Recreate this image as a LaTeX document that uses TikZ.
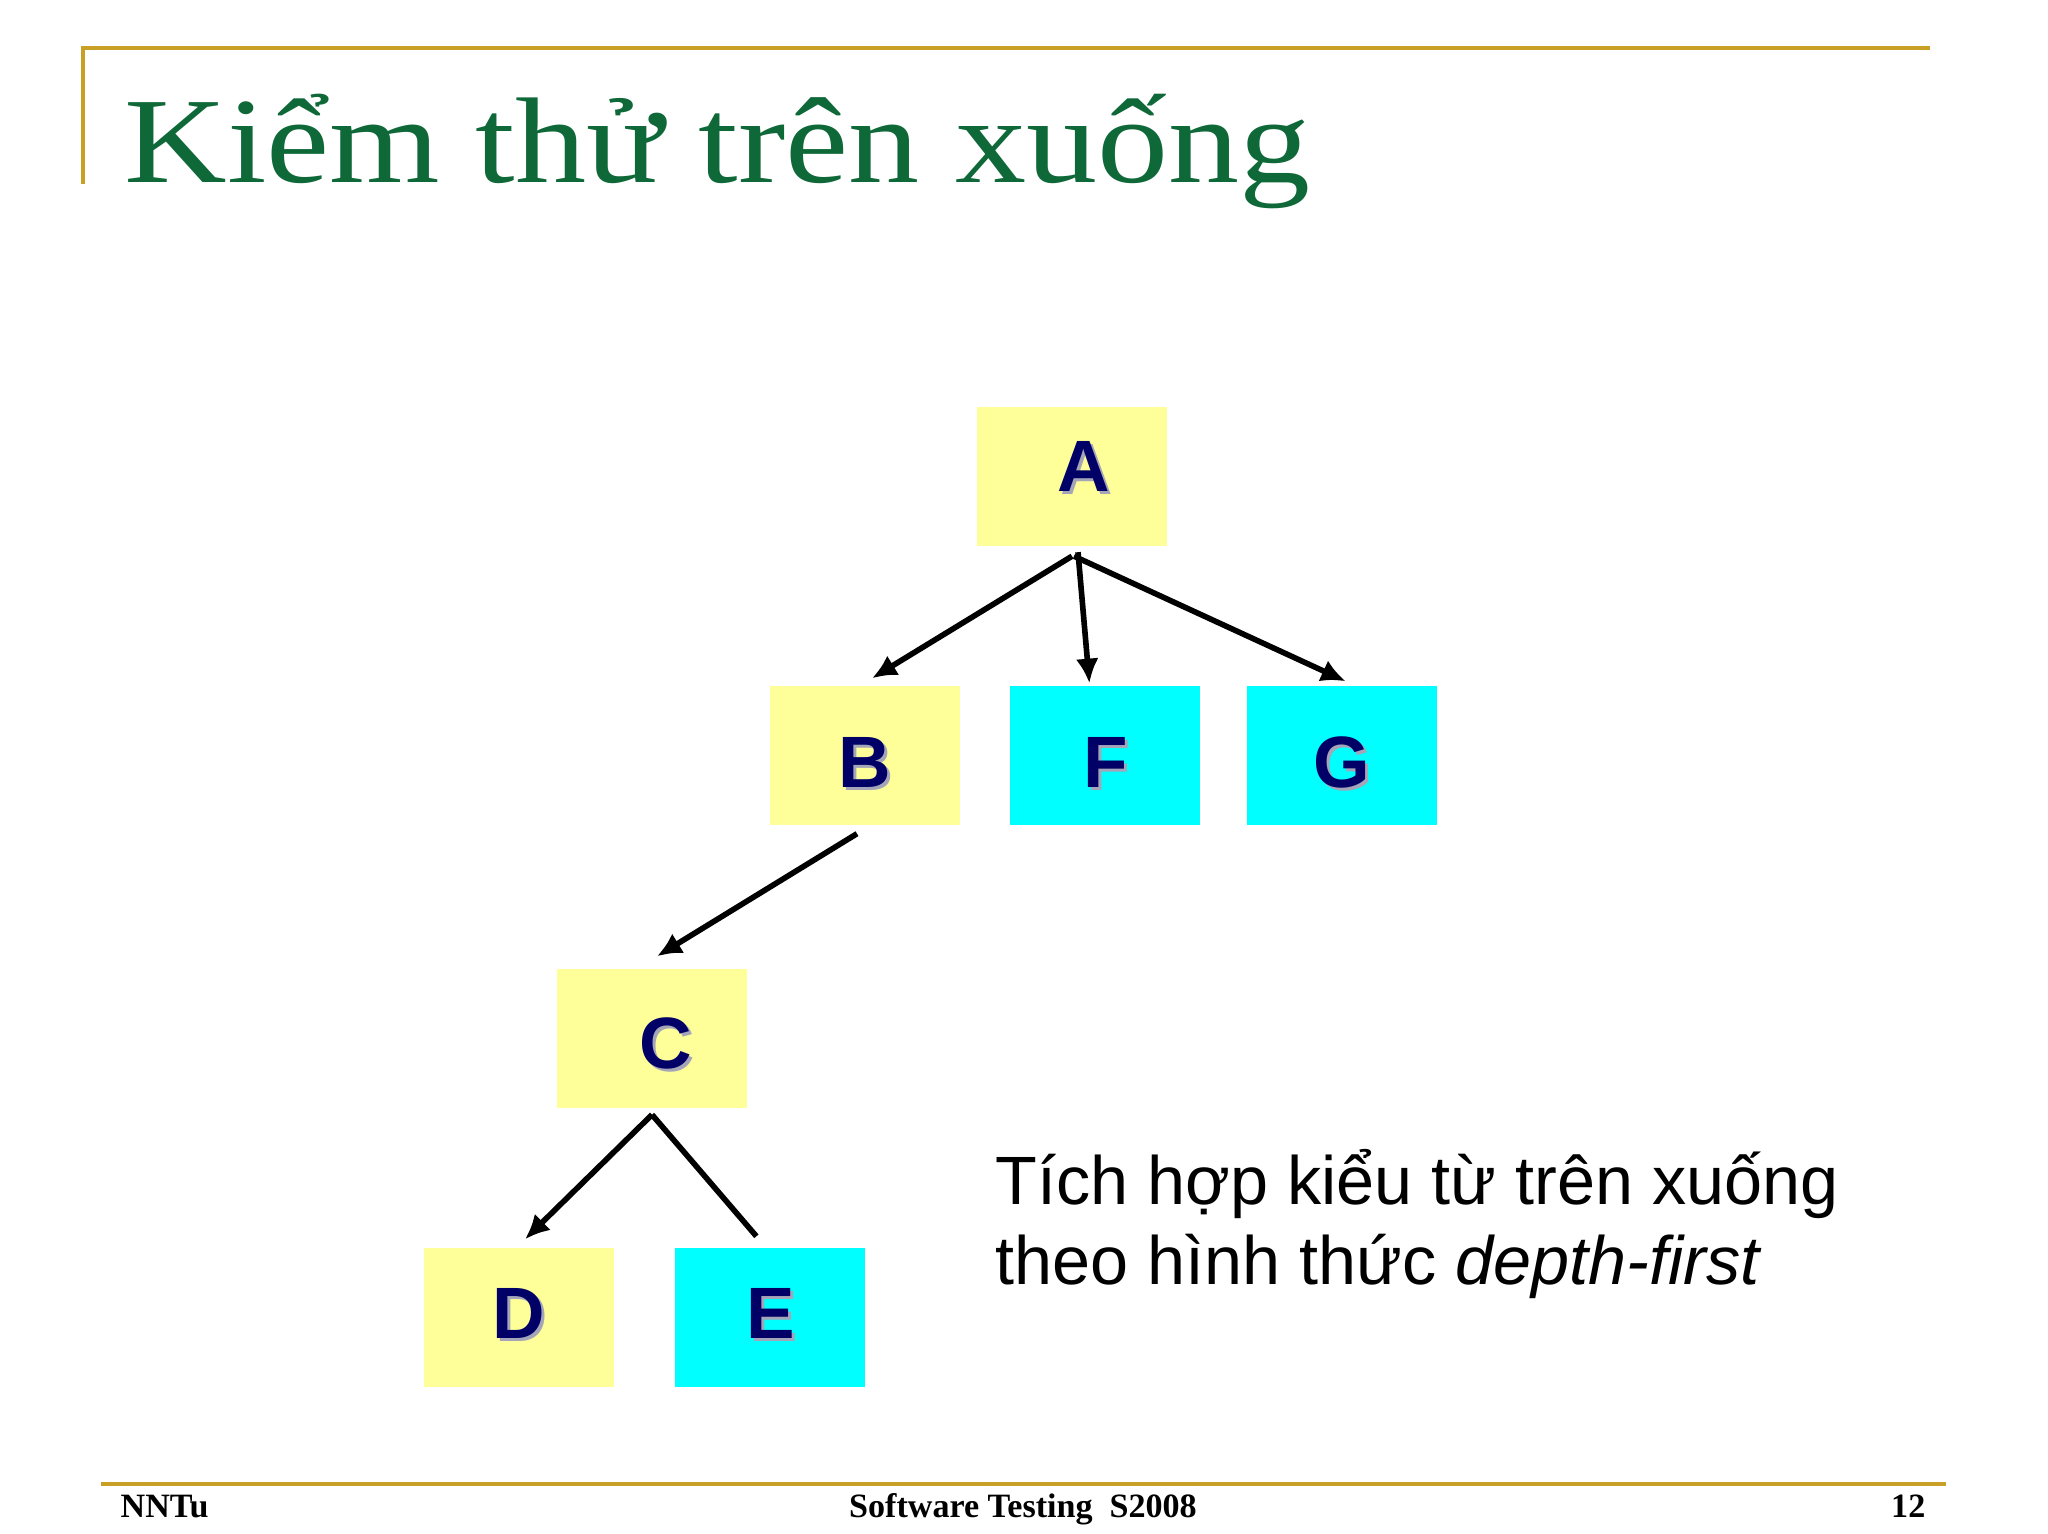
\documentclass[tikz,border=0pt]{standalone}
\usepackage{fontspec}
\setmainfont{Liberation Serif}
\setsansfont{Liberation Sans}
\usepackage{graphicx}
\usetikzlibrary{arrows.meta,positioning}
\definecolor{titlegreen}{RGB}{14,104,56}
\definecolor{rulegold}{RGB}{201,160,38}
\definecolor{boxyellow}{RGB}{255,255,153}
\definecolor{boxcyan}{RGB}{0,255,255}
\definecolor{letterblue}{RGB}{0,0,102}
\definecolor{shadowgrey}{RGB}{165,165,185}
\newcommand{\shadowletter}[2][0cm]{\raisebox{#1}[\height][\depth]{\makebox[0pt][l]{\hspace{0.9pt}\raisebox{-0.9pt}{\color{shadowgrey}#2}}#2}}

\begin{document}
\begin{tikzpicture}[>={Latex[length=7pt,width=6.5pt]},
  box/.style={minimum width=1.9cm,minimum height=1.39cm,inner sep=0pt,
    font=\sffamily\bfseries\fontsize{20.7pt}{24pt}\selectfont,text=letterblue},
  yellowbox/.style={box,fill=boxyellow},
  cyanbox/.style={box,fill=boxcyan},
  link/.style={draw,->,line width=1.6pt},
  rule/.style={draw=rulegold,line width=1.3pt},
  foot/.style={inner sep=0pt,font=\bfseries\fontsize{9.7pt}{11pt}\selectfont}]
  \useasboundingbox[fill=white] (0,0) rectangle (20.48,-15.34);
  % slide frame
  \draw[rule] (0.83,-1.84) -- (0.83,-0.48) -- (19.30,-0.48);
  \draw[rule] (1.01,-14.84) -- (19.46,-14.84);
  \node (title) [anchor=base west,inner sep=0pt,text=titlegreen,
    font=\fontsize{34.7pt}{40pt}\selectfont] at (1.24,-1.83)
    {\scalebox{1.165}[1]{Kiểm thử trên xuống}};
  % tree
  \node (A) [yellowbox] at (10.72,-4.77) {\hspace{0.24cm}\shadowletter[0.09cm]{A}};
  \node (B) [yellowbox] at (8.65,-7.56) {\shadowletter[-0.08cm]{B}};
  \node (F) [cyanbox,right=0.49cm of B] {\shadowletter[-0.08cm]{F}};
  \node (G) [cyanbox,right=0.45cm of F] {\shadowletter[-0.08cm]{G}};
  \node (C) [yellowbox] at (6.52,-10.39) {\hspace{0.28cm}\shadowletter[-0.06cm]{C}};
  \node (D) [yellowbox] at (5.19,-13.18) {\shadowletter[0.03cm]{D}};
  \node (E) [cyanbox,right=0.6cm of D] {\shadowletter[0.03cm]{E}};
  \path ([yshift=-0.09cm]A.south) edge[link] ([xshift=0.07cm,yshift=0.075cm]B.north);
  \path ([xshift=0.06cm,yshift=-0.05cm]A.south) edge[link] ([xshift=-0.16cm,yshift=0.025cm]F.north);
  \path ([xshift=0.02cm,yshift=-0.09cm]A.south) edge[link] ([xshift=0.04cm,yshift=0.045cm]G.north);
  \path ([xshift=-0.08cm,yshift=-0.075cm]B.south) edge[link] ([xshift=0.05cm,yshift=0.125cm]C.north);
  \path ([yshift=-0.055cm]C.south) edge[link] ([xshift=0.06cm,yshift=0.085cm]D.north);
  \path ([yshift=-0.055cm]C.south) edge[link,-] ([xshift=-0.14cm,yshift=0.115cm]E.north);
  \node (note) [anchor=base west,inner sep=0pt,align=left,
    font=\sffamily\fontsize{19.45pt}{23pt}\selectfont] at (9.95,-12.85)
    {Tích hợp kiểu từ trên xuống\\theo hình thức \textit{depth-first}};
  % footer
  \node (author) [foot,anchor=base west] at (1.20,-15.18) {NNTu};
  \node (course) [foot,anchor=base] at (10.23,-15.18) {Software Testing\ \ S2008};
  \node (page) [foot,anchor=base east] at (19.26,-15.18) {12};
\end{tikzpicture}
\end{document}
